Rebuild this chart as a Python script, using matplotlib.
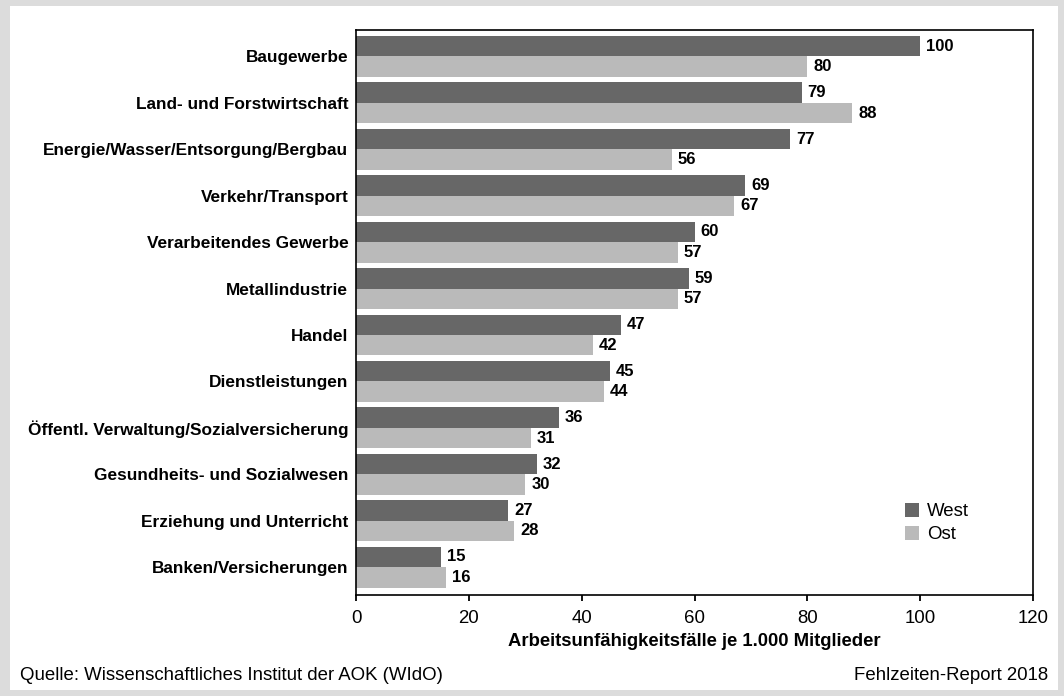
import numpy as np
import matplotlib.pyplot as plt
from matplotlib.patches import Rectangle

plt.rcParams['font.family'] = ['Liberation Sans', 'DejaVu Sans']

branchen = ['Baugewerbe', 'Land- und Forstwirtschaft', 'Energie/Wasser/Entsorgung/Bergbau',
            'Verkehr/Transport', 'Verarbeitendes Gewerbe', 'Metallindustrie', 'Handel',
            'Dienstleistungen', 'Öffentl. Verwaltung/Sozialversicherung',
            'Gesundheits- und Sozialwesen', 'Erziehung und Unterricht', 'Banken/Versicherungen']
west = [100, 79, 77, 69, 60, 59, 47, 45, 36, 32, 27, 15]
ost = [80, 88, 56, 67, 57, 57, 42, 44, 31, 30, 28, 16]

c_west = '#676767'
c_ost = '#bababa'

W, H = 1064, 696
fig = plt.figure(figsize=(W/100, H/100), dpi=100, facecolor='#dcdcdc')
# white panel inside the grey border
fig.patches.append(Rectangle((10/W, 6/H), 1048/W, 684/H, transform=fig.transFigure,
                             facecolor='white', edgecolor='none', zorder=-1))

ax = fig.add_axes([356/W, 1 - 595/H, 677/W, 565/H])
y = np.arange(len(branchen))
h = 0.44
ax.barh(y - h/2, west, height=h, color=c_west, label='West')
ax.barh(y + h/2, ost, height=h, color=c_ost, label='Ost')

for i in range(len(branchen)):
    ax.annotate(str(west[i]), (west[i], y[i] - h/2), xytext=(4.3, 0), textcoords='offset points',
                va='center', ha='left', fontsize=12, fontweight='bold')
    ax.annotate(str(ost[i]), (ost[i], y[i] + h/2), xytext=(4.3, 0), textcoords='offset points',
                va='center', ha='left', fontsize=12, fontweight='bold')

ax.set_xlim(0, 120)
ax.set_ylim(11.6, -0.57)
ax.set_xticks(range(0, 121, 20))
ax.set_yticks(y)
ax.set_yticklabels(branchen, fontweight='bold', fontsize=12.4)
ax.tick_params(axis='y', length=0, pad=5.5)
ax.tick_params(axis='x', labelsize=13.4, length=4.5, width=1.3, direction='out', pad=6.5)
for s in ax.spines.values():
    s.set_linewidth(1.2)

ax.set_xlabel('Arbeitsunfähigkeitsfälle je 1.000 Mitglieder', fontweight='bold', fontsize=13.3, labelpad=4)

ax.legend(loc='upper left', bbox_to_anchor=(905/W, 1 - 503/H), bbox_transform=fig.transFigure,
          frameon=False, fontsize=13.4, borderpad=0, borderaxespad=0,
          handlelength=0.75, handleheight=0.75, handletextpad=0.45, labelspacing=0.3)

fig.text(20/W, 1 - 675/H, 'Quelle: Wissenschaftliches Institut der AOK (WIdO)', fontsize=13.4, va='center')
fig.text(1048/W, 1 - 675/H, 'Fehlzeiten-Report 2018', fontsize=13.4, va='center', ha='right')

fig.savefig('out.png', dpi=100, facecolor=fig.get_facecolor())
